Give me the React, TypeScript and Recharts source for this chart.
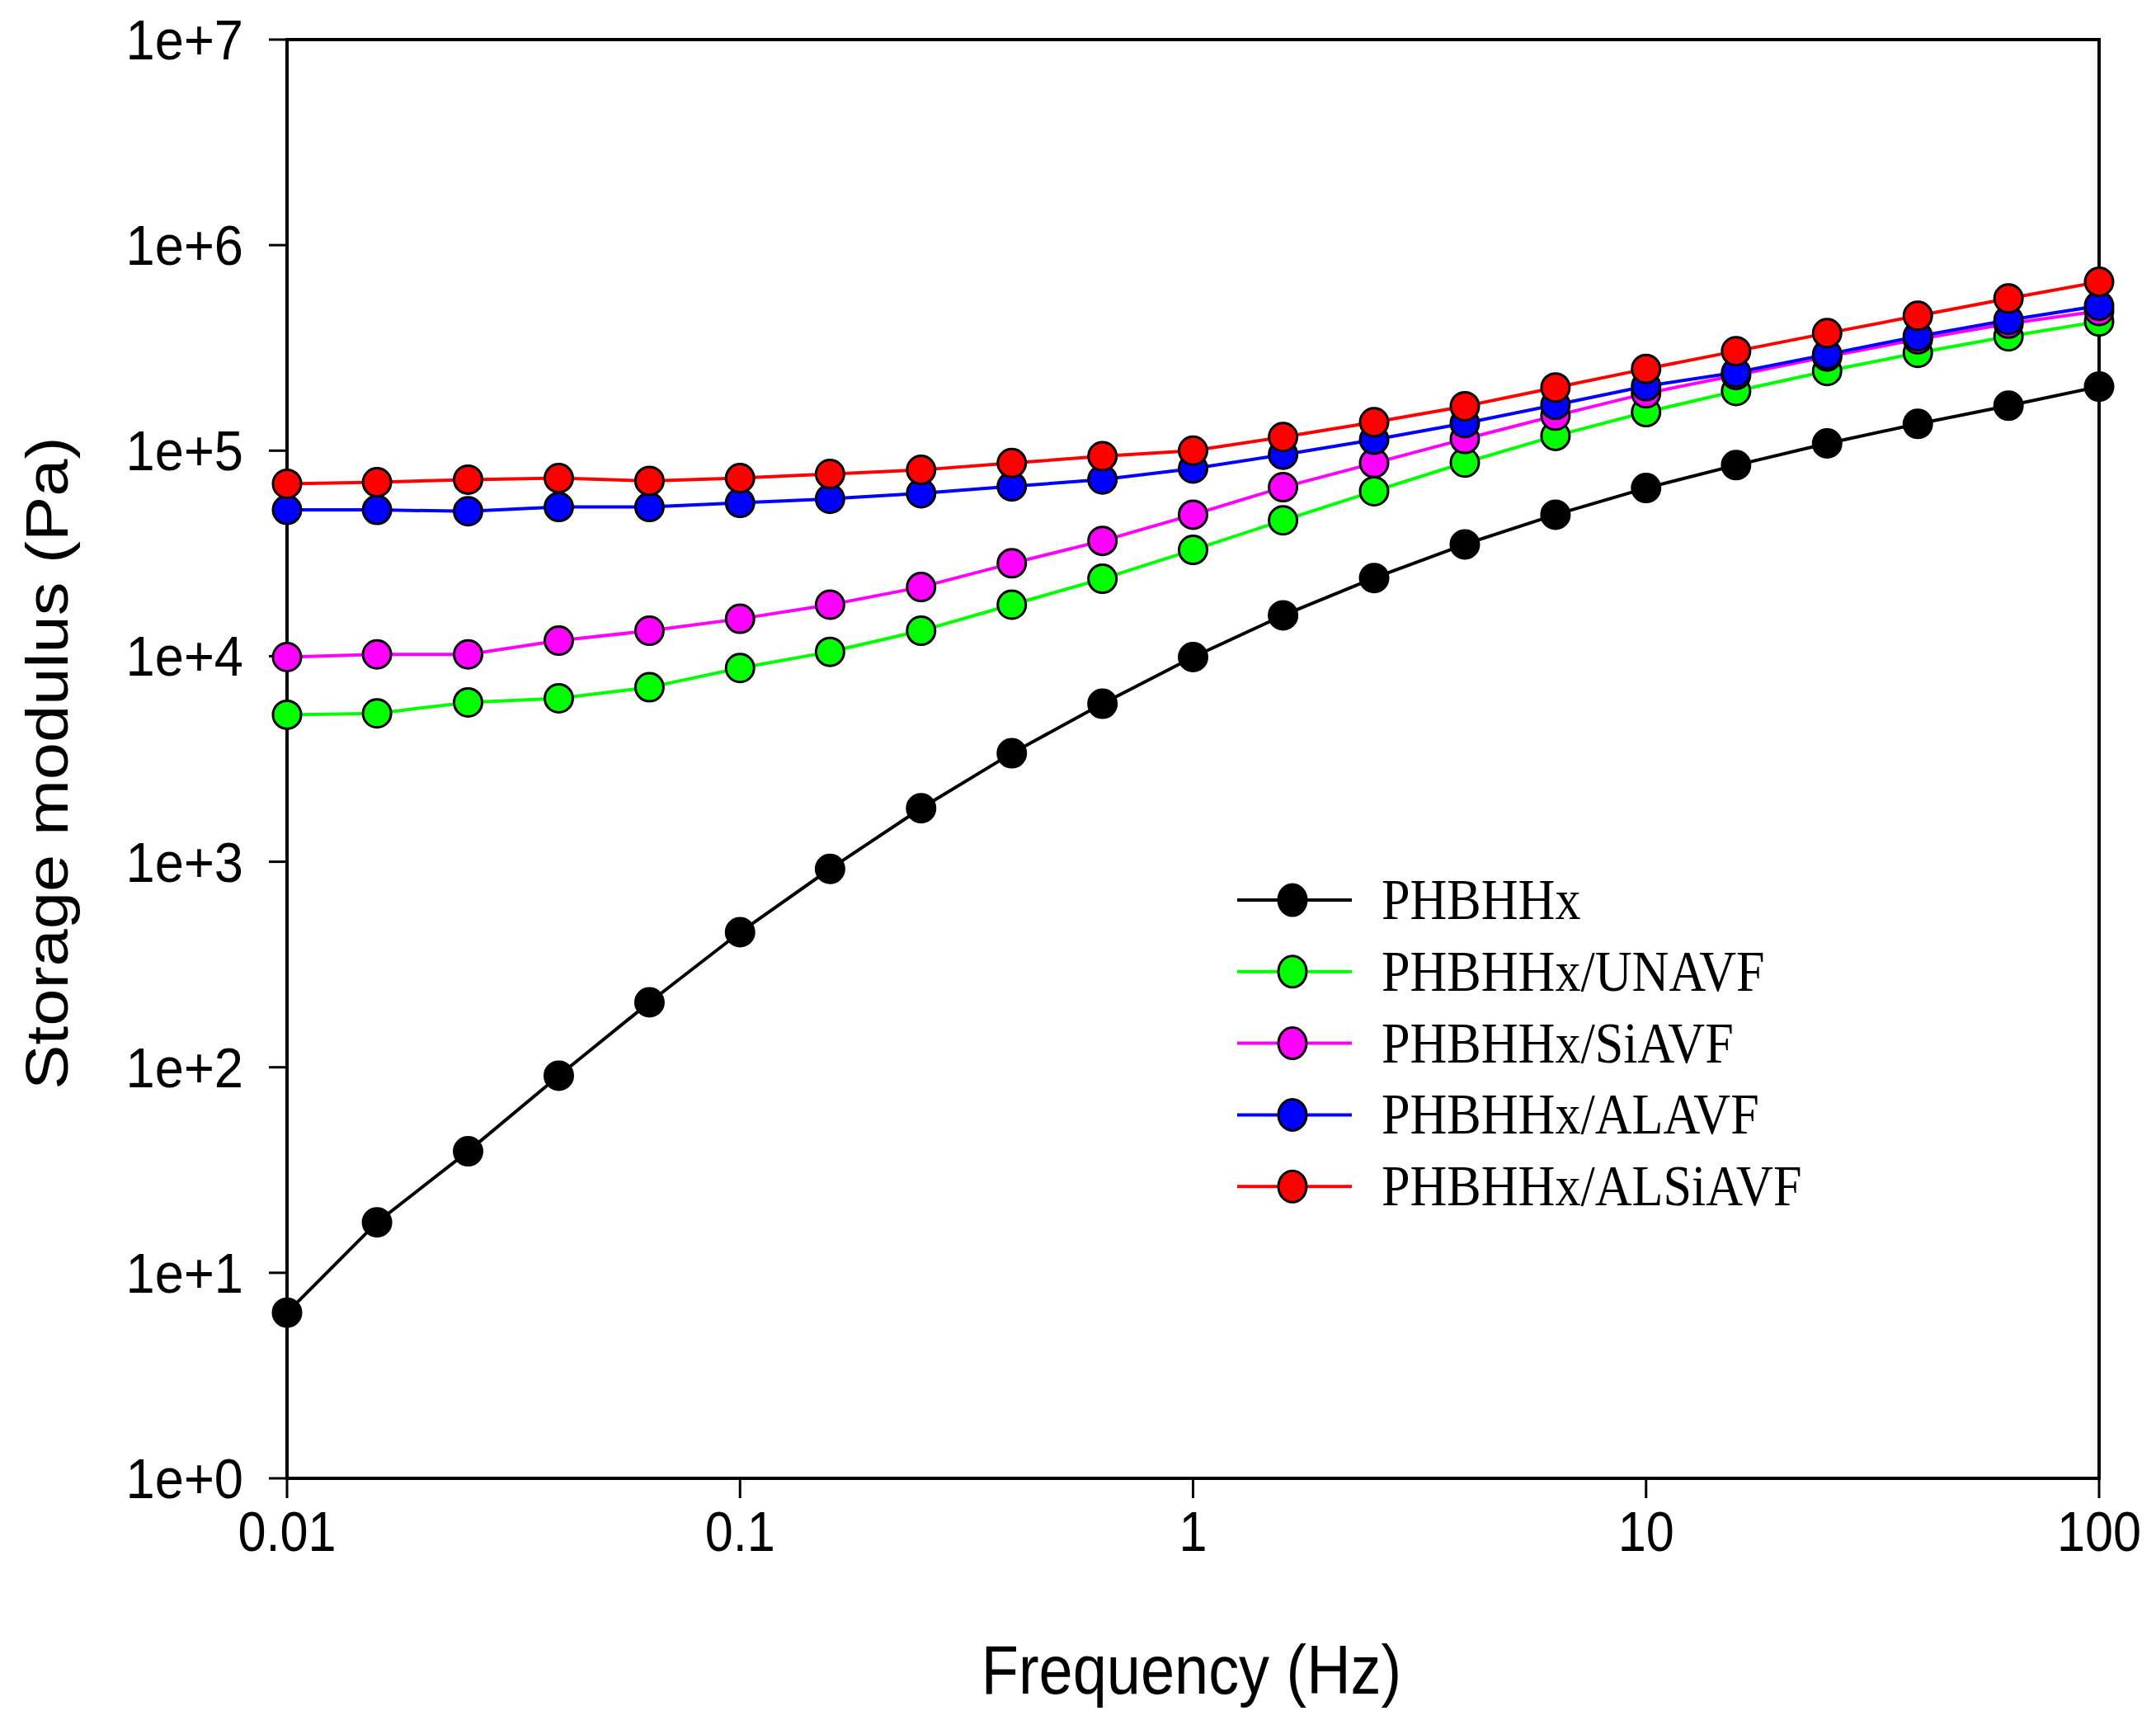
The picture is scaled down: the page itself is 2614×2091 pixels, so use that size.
import React from "react";
import {
  LineChart,
  Line,
  XAxis,
  YAxis,
  Legend,
  Label,
  ReferenceArea,
} from "recharts";

// frequency sweep, 5 points per decade
const frequency = [
  0.01, 0.0158, 0.0251, 0.0398, 0.0631, 0.1, 0.158, 0.251, 0.398, 0.631, 1,
  1.58, 2.51, 3.98, 6.31, 10, 15.8, 25.1, 39.8, 63.1, 100,
];

// storage modulus (Pa)
const phbhhx = [
  6.4, 17.6, 39, 91, 207, 454, 923, 1820, 3370, 5870, 9900, 15800, 24000,
  35000, 48800, 65800, 85000, 108500, 135000, 165500, 205000,
];
const unavf = [
  5190, 5270, 5960, 6240, 7060, 8760, 10500, 13300, 17800, 23800, 32900,
  45800, 63500, 87500, 118000, 154000, 195000, 244000, 299000, 360000, 425000,
];
const siavf = [
  9900, 10200, 10200, 11900, 13300, 15200, 17800, 21700, 28300, 36400, 48800,
  66400, 87000, 114000, 148000, 190000, 233000, 287000, 348000, 415000, 478000,
];
const alavf = [
  51500, 51500, 50700, 53200, 53200, 55700, 58300, 62000, 67000, 72400, 81800,
  95600, 113000, 136000, 167000, 206000, 240000, 294000, 360000, 432000,
  507000,
];
const alsiavf = [
  69000, 70200, 72300, 73500, 71300, 73500, 77000, 80600, 87000, 94000,
  100000, 116500, 137500, 164500, 203000, 250000, 305000, 373000, 453000,
  550000, 663000,
];

const seriesNames = [
  "PHBHHx",
  "PHBHHx/UNAVF",
  "PHBHHx/SiAVF",
  "PHBHHx/ALAVF",
  "PHBHHx/ALSiAVF",
];
const seriesColors = ["#000000", "#00ff00", "#ff00ff", "#0000ff", "#ff0000"];

const xTicks = [0.01, 0.1, 1, 10, 100];
const xTickLabels = ["0.01", "0.1", "1", "10", "100"];
const yTicks = [1, 10, 100, 1e3, 1e4, 1e5, 1e6, 1e7];
const yTickLabels = ["1e+0", "1e+1", "1e+2", "1e+3", "1e+4", "1e+5", "1e+6", "1e+7"];

const seriesValues = [phbhhx, unavf, siavf, alavf, alsiavf];
const chartData = frequency.map((f, i) => {
  const row: Record<string, number> = { f };
  seriesValues.forEach((vals, s) => {
    row[`s${s}`] = vals[i];
  });
  return row;
});

const SANS = "'Liberation Sans', Arial, sans-serif";
const SERIF = "'Liberation Serif', 'Times New Roman', serif";

function XTick(props: any) {
  const { x, y, payload } = props;
  const idx = xTicks.indexOf(payload.value);
  return (
    <text
      transform={`translate(${x} ${y + 49}) scale(0.9 1)`}
      textAnchor="middle"
      fontFamily={SANS}
      fontSize={68}
      fill="#000"
    >
      {idx >= 0 ? xTickLabels[idx] : payload.value}
    </text>
  );
}

function YTick(props: any) {
  const { x, y, payload } = props;
  const idx = yTicks.indexOf(payload.value);
  return (
    <text
      transform={`translate(${x} ${y + 24}) scale(0.93 1)`}
      textAnchor="end"
      fontFamily={SANS}
      fontSize={68}
      fill="#000"
    >
      {idx >= 0 ? yTickLabels[idx] : payload.value}
    </text>
  );
}

function XTitle(props: any) {
  const vb = props.viewBox || { x: 348, y: 1792, width: 2197, height: 299 };
  return (
    <text
      transform={`translate(${vb.x + vb.width / 2 - 2} ${vb.y + 261}) scale(0.88 1)`}
      textAnchor="middle"
      fontFamily={SANS}
      fontSize={84}
      fill="#000"
    >
      Frequency (Hz)
    </text>
  );
}

function YTitle(props: any) {
  const vb = props.viewBox || { x: 0, y: 48, width: 348, height: 1744 };
  return (
    <text
      transform={`translate(${vb.x + 82} ${vb.y + vb.height / 2 + 5}) rotate(-90) scale(1.13 1)`}
      textAnchor="middle"
      fontFamily={SANS}
      fontSize={72}
      fill="#000"
    >
      Storage modulus (Pa)
    </text>
  );
}

function LegendBox(props: any) {
  // keep the series order instead of recharts' alphabetical sort
  const items = [...(props.payload ?? [])].sort(
    (a: any, b: any) => seriesNames.indexOf(a.value) - seriesNames.indexOf(b.value)
  );
  return (
    <svg width={820} height={460} style={{ display: "block", overflow: "visible" }}>
      {items.map((item: any, i: number) => {
        const cy = 51 + 86.8 * i;
        return (
          <g key={`leg-${i}`}>
            <line x1={10} x2={149} y1={cy} y2={cy} stroke={item.color} strokeWidth={4} />
            <ellipse cx={77} cy={cy} rx={17} ry={19} fill={item.color} stroke="#000" strokeWidth={3} />
            <text
              transform={`translate(185 ${cy + 23}) scale(0.9 1)`}
              fontFamily={SERIF}
              fontSize={69}
              fill="#000"
            >
              {item.value}
            </text>
          </g>
        );
      })}
    </svg>
  );
}

export default function App() {
  return (
    <div style={{ position: "absolute", left: 0, top: 0, background: "#fff" }}>
      <LineChart
        width={2614}
        height={2091}
        data={chartData}
        margin={{ top: 48, right: 69, left: 0, bottom: 0 }}
      >
        <XAxis
          dataKey="f"
          type="number"
          scale="log"
          domain={[0.01, 100]}
          ticks={xTicks}
          height={299}
          axisLine={{ stroke: "#000", strokeWidth: 4 }}
          tickLine={{ stroke: "#000", strokeWidth: 3 }}
          tickSize={24}
          tickMargin={15}
          tick={<XTick />}
          interval={0}
        >
          <Label content={<XTitle />} />
        </XAxis>
        <YAxis
          type="number"
          scale="log"
          domain={[1, 1e7]}
          ticks={yTicks}
          width={348}
          axisLine={{ stroke: "#000", strokeWidth: 4 }}
          tickLine={{ stroke: "#000", strokeWidth: 3 }}
          tickSize={22}
          tickMargin={31}
          tick={<YTick />}
          interval={0}
        >
          <Label content={<YTitle />} />
        </YAxis>
        <ReferenceArea
          x1={0.01}
          x2={100}
          y1={1}
          y2={1e7}
          fill="none"
          fillOpacity={0}
          stroke="#000"
          strokeWidth={4}
          ifOverflow="visible"
        />
        <Legend
          layout="vertical"
          align="center"
          verticalAlign="middle"
          content={<LegendBox />}
          wrapperStyle={{ left: 1490, top: 1040, width: 820, height: 460 }}
        />
        {seriesNames.map((name, s) => (
          <Line
            key={name}
            type="linear"
            dataKey={`s${s}`}
            name={name}
            stroke={seriesColors[s]}
            strokeWidth={4}
            dot={{ r: 17, fill: seriesColors[s], stroke: "#000", strokeWidth: 3 }}
            activeDot={false}
            isAnimationActive={false}
          />
        ))}
      </LineChart>
    </div>
  );
}
